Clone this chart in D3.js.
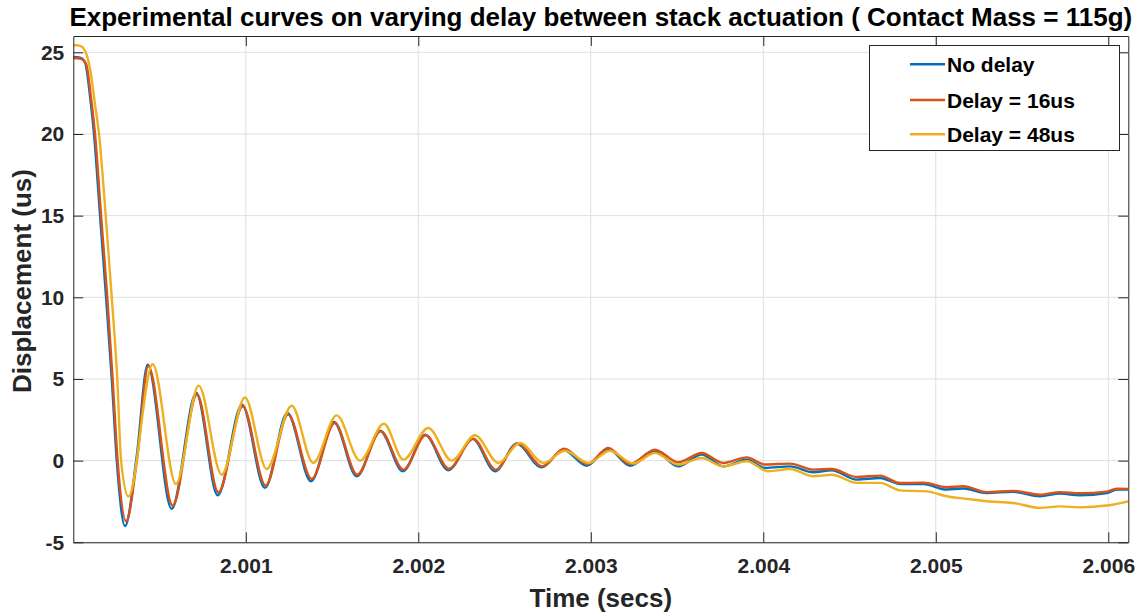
<!DOCTYPE html>
<html>
<head>
<meta charset="utf-8">
<script src="https://cdn.jsdelivr.net/npm/d3@7"></script>
<style>
  html, body { margin: 0; padding: 0; background: #fff; }
  svg { display: block; }
  text { font-family: "Liberation Sans", Arial, Helvetica, sans-serif; font-weight: bold; }
</style>
</head>
<body>
<svg id="chart" width="1147" height="614"></svg>
<script>
// ---- data -------------------------------------------------------------
const titleText = "Experimental curves on varying delay between stack actuation ( Contact Mass = 115g)";
const xLabel = "Time (secs)";
const yLabel = "Displacement (us)";
const seriesNames = ["No delay", "Delay = 16us", "Delay = 48us"];
const seriesColors = ["#0072BD", "#D95319", "#EDB120"];

const xTicks = [2.001, 2.002, 2.003, 2.004, 2.005, 2.006];
const yTicks = [-5, 0, 5, 10, 15, 20, 25];
const xDomain = [2.0, 2.006116];
const yDomain = [-5, 26];

// No delay
const noDelayTime = [2.000000, 2.000039, 2.000068, 2.000097, 2.000120, 2.000155, 2.000190, 2.000223, 2.000252,
  2.000300, 2.000368, 2.000431, 2.000570, 2.000713, 2.000837, 2.000978, 2.001111, 2.001241, 2.001378,
  2.001511, 2.001643, 2.001778, 2.001911, 2.002039, 2.002174, 2.002315, 2.002445, 2.002570, 2.002715,
  2.002841, 2.002976, 2.003101, 2.003227, 2.003372, 2.003507, 2.003643, 2.003768, 2.003904, 2.004010,
  2.004155, 2.004290, 2.004397, 2.004542, 2.004677, 2.004793, 2.004928, 2.005063, 2.005159, 2.005295,
  2.005449, 2.005604, 2.005720, 2.005836, 2.005991, 2.006049, 2.006116];
const noDelayDisp = [24.72, 24.68, 24.4, 22.3, 20.0, 15.0, 10.0, 5.0, 0.0,
  -4.0, 0.3, 5.87, -2.95, 4.14, -2.12, 3.43, -1.67, 2.92, -1.26,
  2.37, -0.96, 1.83, -0.65, 1.59, -0.59, 1.33, -0.65, 1.04, -0.41,
  0.67, -0.31, 0.72, -0.31, 0.57, -0.35, 0.37, -0.35, 0.06, -0.45,
  -0.35, -0.71, -0.59, -1.16, -1.06, -1.43, -1.43, -1.77, -1.71, -1.98,
  -1.91, -2.18, -2.02, -2.12, -1.98, -1.77, -1.77];

// Delay = 16us
const delay16Time = [2.000000, 2.000039, 2.000074, 2.000103, 2.000126, 2.000161, 2.000197, 2.000228, 2.000257,
  2.000306, 2.000372, 2.000435, 2.000576, 2.000717, 2.000841, 2.000982, 2.001115, 2.001245, 2.001382,
  2.001515, 2.001646, 2.001782, 2.001914, 2.002043, 2.002178, 2.002319, 2.002449, 2.002576, 2.002719,
  2.002846, 2.002980, 2.003101, 2.003227, 2.003372, 2.003507, 2.003643, 2.003768, 2.003904, 2.004010,
  2.004155, 2.004290, 2.004397, 2.004542, 2.004677, 2.004793, 2.004928, 2.005063, 2.005159, 2.005295,
  2.005449, 2.005604, 2.005720, 2.005836, 2.005991, 2.006049, 2.006116];
const delay16Disp = [24.65, 24.62, 24.3, 22.2, 20.0, 15.0, 10.0, 5.0, 0.0,
  -3.71, 0.3, 5.8, -2.75, 4.05, -1.94, 3.33, -1.53, 2.82, -1.12,
  2.30, -0.86, 1.80, -0.55, 1.55, -0.50, 1.33, -0.55, 1.06, -0.35,
  0.73, -0.22, 0.78, -0.22, 0.67, -0.10, 0.47, -0.14, 0.20, -0.24,
  -0.18, -0.55, -0.51, -1.00, -0.92, -1.37, -1.35, -1.63, -1.57, -1.93,
  -1.85, -2.08, -1.93, -2.00, -1.90, -1.72, -1.73];

// Delay = 48us
const delay48Time = [2.000000, 2.000039, 2.000068, 2.000097, 2.000126, 2.000149, 2.000188, 2.000223, 2.000255,
  2.000277, 2.000320, 2.000460, 2.000595, 2.000727, 2.000860, 2.000995, 2.001121, 2.001266, 2.001391,
  2.001527, 2.001662, 2.001801, 2.001913, 2.002058, 2.002194, 2.002329, 2.002464, 2.002590, 2.002725,
  2.002850, 2.002986, 2.003111, 2.003246, 2.003372, 2.003507, 2.003643, 2.003768, 2.003904, 2.004029,
  2.004155, 2.004290, 2.004397, 2.004542, 2.004677, 2.004793, 2.004947, 2.005063, 2.005179, 2.005295,
  2.005449, 2.005604, 2.005720, 2.005836, 2.005991, 2.006116];
const delay48Disp = [25.45, 25.4, 25.1, 24.0, 21.8, 20.0, 15.0, 10.0, 5.0,
  0.0, -2.2, 5.9, -1.43, 4.59, -0.86, 3.87, -0.51, 3.36, -0.14,
  2.77, 0.0, 2.26, 0.06, 2.0, 0.0, 1.55, -0.14, 1.08, -0.14,
  0.61, -0.14, 0.61, -0.18, 0.47, -0.24, 0.16, -0.35, -0.04, -0.65,
  -0.51, -0.96, -0.86, -1.36, -1.36, -1.82, -1.88, -2.18, -2.34, -2.49,
  -2.59, -2.89, -2.80, -2.86, -2.75, -2.49];

const seriesTimes = [noDelayTime, delay16Time, delay48Time];
const seriesDisps = [noDelayDisp, delay16Disp, delay48Disp];

// ---- layout -----------------------------------------------------------
const W = 1147, H = 614;
const plot = { left: 73.3, right: 1128.3, top: 36, bottom: 542.3 };
const ink = "#262626";
const tickLen = 10;

const svg = d3.select("#chart");

const x = d3.scaleLinear().domain(xDomain).range([plot.left, plot.right]);
const y = d3.scaleLinear().domain(yDomain).range([plot.bottom, plot.top]);

// grid
const grid = svg.append("g").attr("class", "grid");
grid.selectAll("line.gx").data(xTicks).join("line")
  .attr("x1", d => x(d)).attr("x2", d => x(d))
  .attr("y1", plot.top).attr("y2", plot.bottom)
  .attr("stroke", "#dfdfdf").attr("stroke-width", 1);
grid.selectAll("line.gy").data(yTicks).join("line")
  .attr("x1", plot.left).attr("x2", plot.right)
  .attr("y1", d => y(d)).attr("y2", d => y(d))
  .attr("stroke", "#dfdfdf").attr("stroke-width", 1);

// curves
svg.append("clipPath").attr("id", "plotClip")
  .append("rect")
  .attr("x", plot.left).attr("y", plot.top)
  .attr("width", plot.right - plot.left).attr("height", plot.bottom - plot.top);

const line = d3.line()
  .x(d => x(d[0])).y(d => y(d[1]))
  .curve(d3.curveMonotoneX);

const curves = svg.append("g").attr("clip-path", "url(#plotClip)");
seriesTimes.forEach((ts, i) => {
  const pts = ts.map((t, k) => [t, seriesDisps[i][k]]);
  curves.append("path")
    .datum(pts)
    .attr("d", line)
    .attr("fill", "none")
    .attr("stroke", seriesColors[i])
    .attr("stroke-width", 2.4)
    .attr("stroke-linejoin", "round");
});

// axes (box with inward ticks on all sides)
const axisBottom = d3.axisBottom(x).tickValues(xTicks).tickSizeInner(-tickLen).tickSizeOuter(0)
  .tickFormat(d3.format(".3f")).tickPadding(16);
const axisTop = d3.axisTop(x).tickValues(xTicks).tickSizeInner(-tickLen).tickSizeOuter(0).tickFormat("");
const axisLeft = d3.axisLeft(y).tickValues(yTicks).tickSizeInner(-tickLen).tickSizeOuter(0).tickPadding(9)
  .tickFormat(d => String(d));
const axisRight = d3.axisRight(y).tickValues(yTicks).tickSizeInner(-tickLen).tickSizeOuter(0).tickFormat("");

function styleAxis(g) {
  g.select(".domain").attr("stroke", ink).attr("stroke-width", 1);
  g.selectAll(".tick line").attr("stroke", ink).attr("stroke-width", 1);
  g.selectAll(".tick text")
    .attr("fill", ink)
    .style("font-size", "21px")
    .style("font-family", '"Liberation Sans", Arial, sans-serif')
    .style("font-weight", "bold");
}

svg.append("g").attr("transform", `translate(0,${plot.bottom})`).call(axisBottom).call(styleAxis);
svg.append("g").attr("transform", `translate(0,${plot.top})`).call(axisTop).call(styleAxis);
svg.append("g").attr("transform", `translate(${plot.left},0)`).call(axisLeft).call(styleAxis);
svg.append("g").attr("transform", `translate(${plot.right},0)`).call(axisRight).call(styleAxis);

// titles
svg.append("text")
  .attr("x", (plot.left + plot.right) / 2).attr("y", 26)
  .attr("text-anchor", "middle")
  .attr("fill", "#000")
  .style("font-size", "26px")
  .text(titleText);

svg.append("text")
  .attr("x", (plot.left + plot.right) / 2).attr("y", 607)
  .attr("text-anchor", "middle")
  .attr("fill", ink)
  .style("font-size", "26px")
  .text(xLabel);

svg.append("text")
  .attr("transform", "translate(31,281) rotate(-90)")
  .attr("text-anchor", "middle")
  .attr("fill", ink)
  .style("font-size", "26px")
  .text(yLabel);

// legend
const legend = svg.append("g");
legend.append("rect")
  .attr("x", 869.5).attr("y", 45.5)
  .attr("width", 250).attr("height", 105)
  .attr("fill", "#fff").attr("stroke", ink).attr("stroke-width", 1);

const rowY = [64.3, 100, 134.3];
seriesNames.forEach((name, i) => {
  legend.append("line")
    .attr("x1", 910).attr("x2", 945)
    .attr("y1", rowY[i]).attr("y2", rowY[i])
    .attr("stroke", seriesColors[i]).attr("stroke-width", 2.4);
  legend.append("text")
    .attr("x", 947).attr("y", rowY[i] + 7.5)
    .attr("fill", "#000")
    .style("font-size", "21px")
    .text(name);
});
</script>
</body>
</html>
